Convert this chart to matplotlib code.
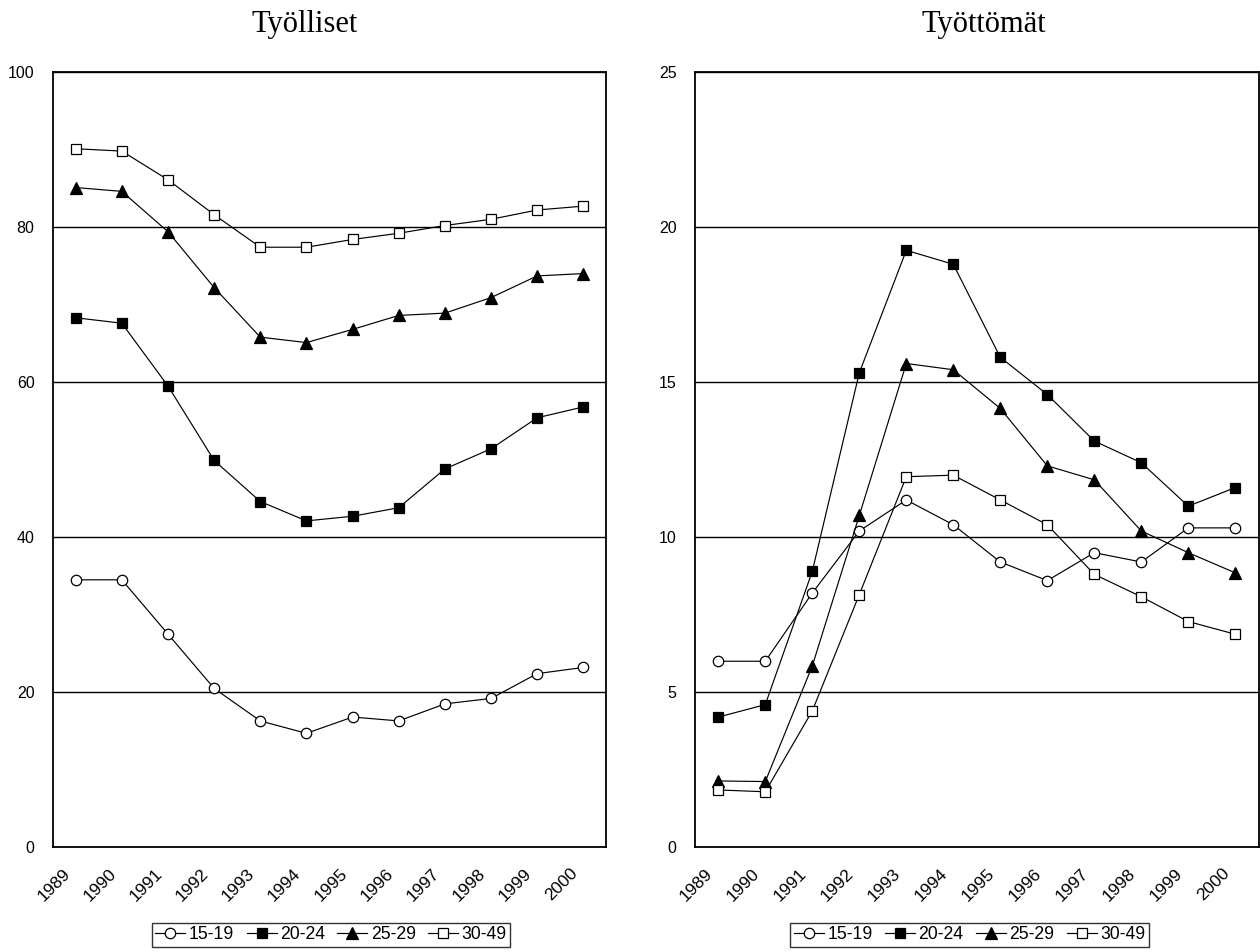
import numpy as np
import matplotlib
matplotlib.use('Agg')
import matplotlib.pyplot as plt
from matplotlib.transforms import ScaledTranslation

# Data
years = ['1989', '1990', '1991', '1992', '1993', '1994',
         '1995', '1996', '1997', '1998', '1999', '2000']
groups = ['15-19', '20-24', '25-29', '30-49']

# Employed (%)
tyolliset = {
    '15-19': [34.5, 34.5, 27.5, 20.5, 16.3, 14.7, 16.8, 16.3, 18.5, 19.2, 22.4, 23.2],
    '20-24': [68.3, 67.6, 59.5, 49.9, 44.6, 42.1, 42.7, 43.8, 48.8, 51.4, 55.4, 56.8],
    '25-29': [85.1, 84.6, 79.4, 72.2, 65.8, 65.1, 66.8, 68.6, 68.9, 70.9, 73.7, 74.0],
    '30-49': [90.1, 89.8, 86.1, 81.6, 77.4, 77.4, 78.4, 79.2, 80.2, 81.0, 82.2, 82.7],
}

# Unemployed (%)
tyottomat = {
    '15-19': [6.0, 6.0, 8.2, 10.2, 11.2, 10.4, 9.2, 8.6, 9.5, 9.2, 10.3, 10.3],
    '20-24': [4.2, 4.6, 8.9, 15.3, 19.25, 18.8, 15.8, 14.6, 13.1, 12.4, 11.0, 11.6],
    '25-29': [2.14, 2.12, 5.85, 10.7, 15.6, 15.4, 14.15, 12.3, 11.85, 10.2, 9.5, 8.85],
    '30-49': [1.85, 1.79, 4.4, 8.15, 11.95, 12.0, 11.2, 10.4, 8.8, 8.08, 7.28, 6.87],
}

styles = {
    '15-19': dict(marker='o', markerfacecolor='white', markersize=7.5),
    '20-24': dict(marker='s', markerfacecolor='black', markersize=7),
    '25-29': dict(marker='^', markerfacecolor='black', markersize=8.5),
    '30-49': dict(marker='s', markerfacecolor='white', markersize=7.5),
}

plt.rcParams['font.family'] = ['Liberation Sans', 'DejaVu Sans']

fig = plt.figure(figsize=(12.6, 9.52), dpi=100)
W, H = 1260, 952
ax1 = fig.add_axes([52.6 / W, (H - 847.3) / H, 553.8 / W, 775.3 / H])
ax2 = fig.add_axes([694.8 / W, (H - 847.3) / H, 564 / W, 775.3 / H])

x = np.arange(len(years))


def draw(ax, data, title, title_x, ymax, step, leg_x):
    for g in groups:
        ax.plot(x, data[g], color='black', linewidth=0.85,
                markeredgecolor='black', markeredgewidth=0.9,
                label=g, **styles[g])
    ax.set_xlim(-0.5, len(years) - 0.5)
    ax.set_ylim(0, ymax)
    ax.set_yticks(np.arange(0, ymax + 0.1, step))
    ax.set_xticks(x)
    ax.set_xticklabels(years, rotation=45, ha='right', va='center',
                       rotation_mode='anchor')
    ax.tick_params(axis='y', length=0, pad=13, labelsize=11.5)
    ax.tick_params(axis='x', length=0, pad=17, labelsize=12.5)
    shift = ScaledTranslation(-8 / 100, 0, fig.dpi_scale_trans)
    for lab in ax.get_xticklabels():
        lab.set_transform(lab.get_transform() + shift)
    ax.grid(axis='y', color='black', linewidth=1.0)
    ax.set_axisbelow(True)
    for s in ax.spines.values():
        s.set_linewidth(1.3)
        s.set_color('black')
    fig.text(title_x / W, (H - 31.7) / H, title, fontsize=22,
             family='Liberation Serif', ha='center', va='baseline')
    leg = ax.legend(loc='center', bbox_to_anchor=(leg_x, -0.113), ncol=4,
                    frameon=True, fancybox=False, fontsize=12.7,
                    handlelength=1.7, handletextpad=0.2, columnspacing=0.7,
                    borderpad=0.2, borderaxespad=0)
    leg.get_frame().set_edgecolor('black')
    leg.get_frame().set_linewidth(1.0)


draw(ax1, tyolliset, 'Työlliset', 305, 100, 20, 0.503)
draw(ax2, tyottomat, 'Työttömät', 984, 25, 5, 0.487)

fig.savefig('out.png', dpi=100)
